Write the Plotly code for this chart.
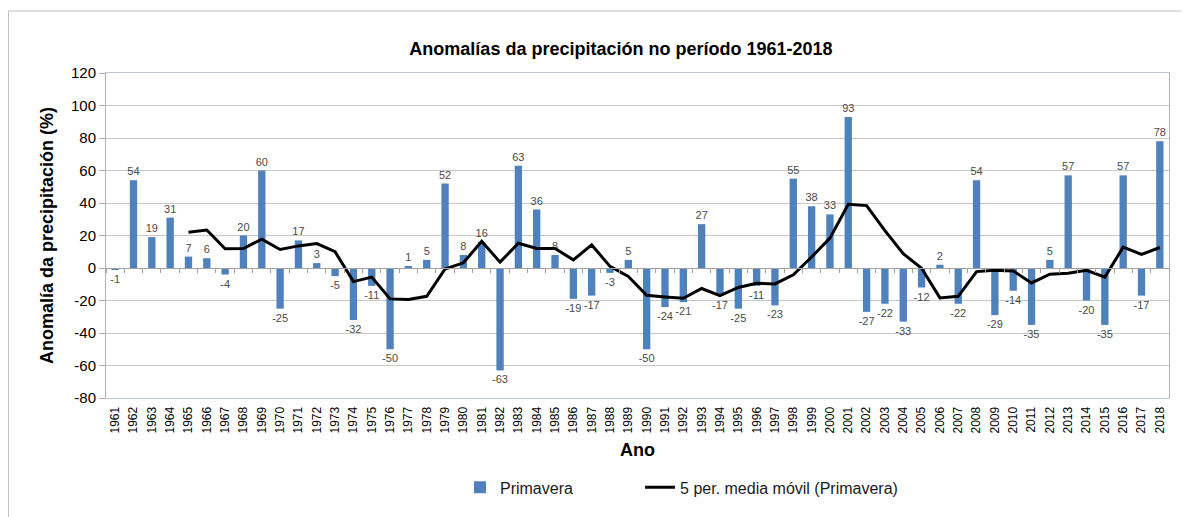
import plotly.graph_objects as go

years = [str(y) for y in range(1961, 2019)]
primavera = [-1, 54, 19, 31, 7, 6, -4, 20, 60, -25, 17, 3, -5, -32, -11, -50, 1, 5, 52, 8,
             16, -63, 63, 36, 8, -19, -17, -3, 5, -50, -24, -21, 27, -17, -25, -11, -23, 55, 38, 33,
             93, -27, -22, -33, -12, 2, -22, 54, -29, -14, -35, 5, 57, -20, -35, 57, -17, 78]
media_movil = [None, None, None, None, 22.0, 23.4, 11.8, 12.0, 17.8, 11.4, 13.6, 15.0, 10.0, -8.4,
               -5.6, -19.0, -19.4, -17.4, -0.6, 3.2, 16.4, 3.6, 15.2, 12.0, 12.0, 5.0, 14.2, 1.0,
               -5.2, -16.8, -17.8, -18.6, -12.6, -17.0, -12.0, -9.4, -9.8, -4.2, 6.8, 18.4, 39.2,
               38.4, 23.0, 8.8, -0.2, -18.4, -17.4, -2.2, -1.4, -1.8, -9.2, -3.8, -3.2, -1.4, -5.6,
               12.8, 8.4, 12.6]
y_ticks = [-80, -60, -40, -20, 0, 20, 40, 60, 80, 100, 120]

FONT = "Liberation Sans, Arial, sans-serif"
BLUE = "#4F81BD"

fig = go.Figure()
fig.add_trace(go.Bar(
    x=years, y=primavera, name="Primavera", legend="legend",
    marker=dict(color=BLUE, line=dict(width=0)),
    text=[str(v) for v in primavera], textposition="outside",
    textfont=dict(size=11, color="#4a4a4a", family=FONT),
    constraintext="none", cliponaxis=False,
))
fig.add_trace(go.Scatter(
    x=years, y=media_movil, name="5 per. media móvil (Primavera)", legend="legend2",
    mode="lines", line=dict(color="black", width=3),
))
# invisible trace to carry the tick axis at y=0
fig.add_trace(go.Scatter(x=years, y=[None] * len(years), xaxis="x2", showlegend=False,
                         hoverinfo="skip"))

legend_common = dict(orientation="h", xanchor="left", y=-0.275, yanchor="middle",
                     font=dict(size=16, color="#1a1a1a", family=FONT),
                     itemwidth=30, bgcolor="rgba(0,0,0,0)")

fig.update_layout(
    width=1181, height=509,
    paper_bgcolor="white", plot_bgcolor="white",
    margin=dict(l=98, r=20, t=65, b=119, autoexpand=False),
    font=dict(family=FONT, color="black"),
    title=dict(text="<b>Anomalías da precipitación no período 1961-2018</b>",
               x=0.519, xanchor="center", y=0.921, yanchor="middle",
               font=dict(size=18, color="black", family=FONT)),
    bargap=0.6,
    showlegend=True,
    legend=dict(x=0.333, **legend_common),
    legend2=dict(x=0.5024, **legend_common),
    xaxis=dict(
        type="category", tickangle=-90, tickfont=dict(size=12, color="black", family=FONT),
        showgrid=False, showline=True, linecolor="#b9c7d6", mirror=True, automargin=False,
        ticks="", ticklabelstandoff=3,
        title=dict(text="<b>Ano</b>", font=dict(size=18, family=FONT), standoff=10),
        range=[-0.5, 57.5],
    ),
    xaxis2=dict(
        overlaying="x", anchor="free", position=0.4, type="linear",
        range=[-0.5, 57.5], showticklabels=False, showgrid=False,
        tickvals=[i + 0.5 for i in range(-1, 58)], ticks="outside", ticklen=4,
        tickcolor="#a0a0a0", showline=True, linecolor="#a0a0a0", linewidth=1,
        zeroline=False,
    ),
    yaxis=dict(
        range=[-80, 120], tickvals=y_ticks, ticktext=[str(v) for v in y_ticks],
        tickfont=dict(size=15, color="black", family=FONT), automargin=False,
        showgrid=True, gridcolor="#c8c8c8", gridwidth=1,
        zeroline=False, showline=True, linecolor="#b0b0b0", mirror=True,
        ticks="outside", ticklen=6, tickcolor="#b0b0b0",
        title=dict(text="<b>Anomalía da precipitación (%)</b>", font=dict(size=18, family=FONT),
                   standoff=12),
    ),
    shapes=[
        dict(type="line", xref="paper", yref="paper", x0=-0.0917, x1=1.02, y0=1.1908, y1=1.1908,
             line=dict(color="#bfbfbf", width=1)),
        dict(type="line", xref="paper", yref="paper", x0=-0.0917, x1=-0.0917, y0=1.1908, y1=-0.37,
             line=dict(color="#bfbfbf", width=1)),
    ],
)

fig.write_html("out.html")
